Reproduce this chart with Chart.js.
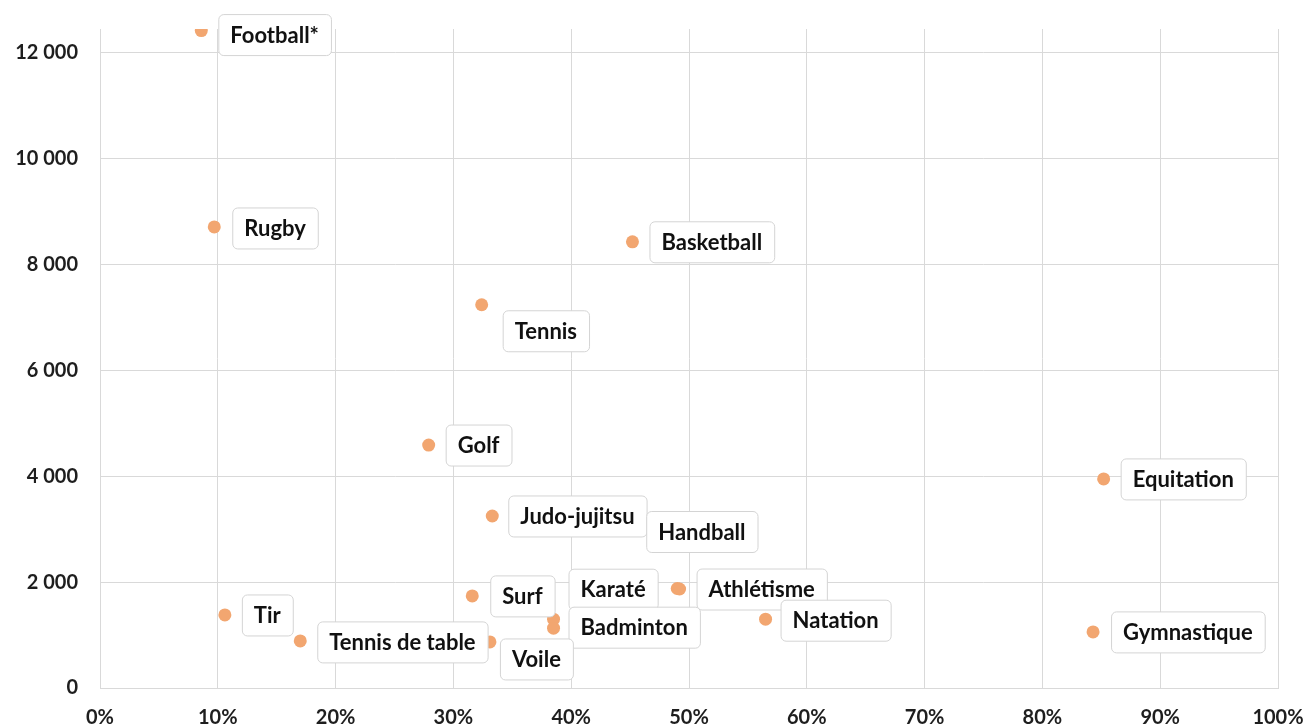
<!DOCTYPE html>
<html>
<head>
<meta charset="utf-8">
<title>Sports</title>
<script src="https://cdn.jsdelivr.net/npm/chart.js"></script>
<style>
    body { margin: 0; background: #fff; }
    #wrap { width: 1306px; height: 726px; position: relative; }
</style>
</head>
<body>
<div id="wrap"><canvas id="chart"></canvas></div>
<script>
// Sports and their values
const sports = ['Football*', 'Rugby', 'Basketball', 'Tennis', 'Golf', 'Equitation', 'Judo-jujitsu', 'Handball',
    'Surf', 'Karaté', 'Badminton', 'Athlétisme', 'Natation', 'Tir', 'Tennis de table', 'Voile', 'Gymnastique'];
const shareValues = [8.6, 9.7, 45.2, 32.4, 27.9, 85.2, 33.3, 49.0, 31.6, 38.5, 38.5, 49.2, 56.5, 10.6, 17.0, 33.1, 84.3];
const countValues = [12420, 8710, 8430, 7240, 4590, 3950, 3250, 1880, 1740, 1300, 1130, 1870, 1300, 1380, 890, 870, 1060];
const xTicks = [0, 10, 20, 30, 40, 50, 60, 70, 80, 90, 100];
const yTicks = [0, 2000, 4000, 6000, 8000, 10000, 12000];

// where each label box sits relative to its point: [left offset, centre offset]
const labelOffsets = [[17, 4], [18, 1], [17, 0], [21, 26], [17, 0], [17, 0], [16, 0], [-31, -57],
    [18, 0], [15, -30], [15, -1], [17, 0], [15, 1], [17, 0], [17, 1], [10, 17], [18, 0]];

const fontFamily = 'Lato, "Open Sans", sans-serif';
const gridColor = '#d9d9d9';

const points = sports.map((s, i) => ({ x: shareValues[i], y: countValues[i] }));

const fmt = v => String(v).replace(/\B(?=(\d{3})+(?!\d))/g, ' ');

// draw the boxed labels next to each point
const boxLabels = {
    id: 'boxLabels',
    afterDatasetsDraw(chart) {
        const ctx = chart.ctx;
        const meta = chart.getDatasetMeta(0);
        ctx.save();
        ctx.font = 'bold 22px ' + fontFamily;
        ctx.textBaseline = 'middle';
        meta.data.forEach((pt, i) => {
            const text = sports[i];
            const off = labelOffsets[i];
            const w = ctx.measureText(text).width + 24;
            const h = 41;
            const x = pt.x + off[0];
            const cy = pt.y + off[1];
            ctx.beginPath();
            ctx.roundRect(x + 0.5, cy - h / 2 + 0.5, w, h, 5);
            ctx.fillStyle = '#ffffff';
            ctx.fill();
            ctx.strokeStyle = '#d4d4d4';
            ctx.lineWidth = 1;
            ctx.stroke();
            ctx.fillStyle = '#111111';
            ctx.fillText(text, x + 12, cy + 1);
        });
        ctx.restore();
    }
};

new Chart(document.getElementById('chart'), {
    type: 'scatter',
    data: {
        datasets: [{
            data: points,
            backgroundColor: 'rgb(242, 166, 112)',
            borderWidth: 0,
            pointRadius: 6.5,
            pointHoverRadius: 6.5
        }]
    },
    options: {
        responsive: true,
        maintainAspectRatio: false,
        animation: false,
        layout: { padding: { top: 29, right: 28, left: 0, bottom: 0 } },
        plugins: {
            legend: { display: false },
            tooltip: { enabled: false }
        },
        scales: {
            x: {
                min: 0,
                max: 100,
                afterBuildTicks: s => { s.ticks = xTicks.map(v => ({ value: v })); },
                afterFit: s => { s.height = 38; s.paddingLeft = 0; s.paddingRight = 0; },
                grid: { color: gridColor, drawTicks: false },
                border: { color: gridColor },
                ticks: {
                    padding: 18,
                    maxRotation: 0,
                    color: '#1e1e1e',
                    font: { family: fontFamily, size: 20, weight: 'bold' },
                    callback: v => v + '%'
                }
            },
            y: {
                min: 0,
                max: 12450,
                afterBuildTicks: s => { s.ticks = yTicks.map(v => ({ value: v })); },
                afterFit: s => { s.width = 100; s.paddingTop = 0; s.paddingBottom = 0; },
                grid: { color: gridColor, drawTicks: false },
                border: { color: gridColor },
                ticks: {
                    padding: 22,
                    color: '#1e1e1e',
                    font: { family: fontFamily, size: 20, weight: 'bold' },
                    callback: v => fmt(v)
                }
            }
        }
    },
    plugins: [boxLabels]
});
</script>
</body>
</html>
